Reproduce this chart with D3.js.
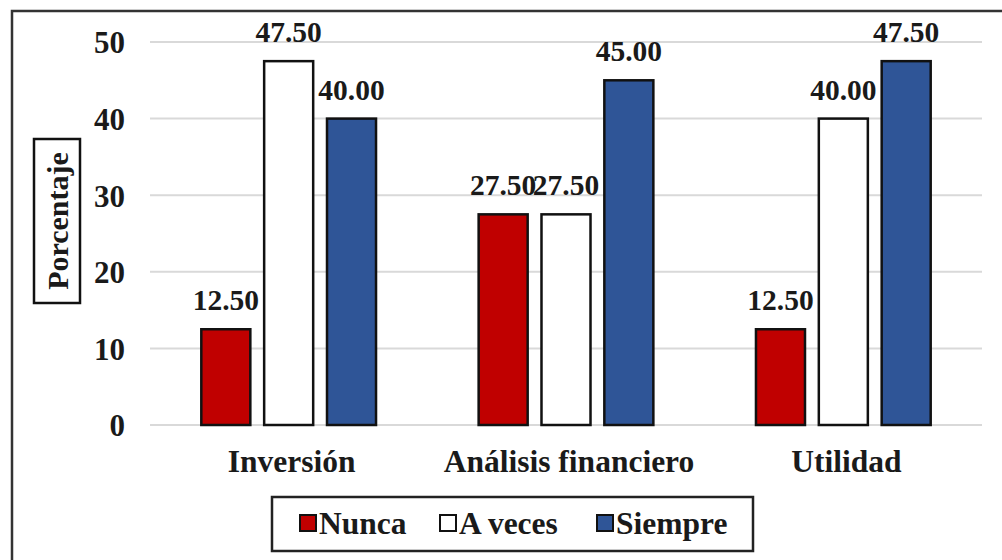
<!DOCTYPE html>
<html>
<head>
<meta charset="utf-8">
<script src="https://cdn.jsdelivr.net/npm/d3@7"></script>
<style>
  body { margin: 0; background: #fff; }
</style>
</head>
<body>
<div id="chart"></div>
<script>
var categories = ["Inversión", "Análisis financiero", "Utilidad"];
var seriesNames = ["Nunca", "A veces", "Siempre"];
var nunca = [12.5, 27.5, 12.5];
var aVeces = [47.5, 27.5, 40.0];
var siempre = [40.0, 45.0, 47.5];
var yTicks = [0, 10, 20, 30, 40, 50];
var colors = ["#c00000", "#ffffff", "#2f5597"];
var FONT = "'Liberation Serif', 'Times New Roman', Times, serif";

var svg = d3.select("#chart").append("svg").attr("width", 1002).attr("height", 560)
  .style("font-family", FONT)
svg.append("rect").attr("x", 0).attr("y", 0).attr("width", 1002).attr("height", 560).attr("fill", "#fff")
// outer frame
svg.append("rect").attr("x", 12).attr("y", 11).attr("width", 1010).attr("height", 570)
  .attr("fill", "none").attr("stroke", "#333").attr("stroke-width", 2.5)

var x0 = d3.scaleBand().domain(categories).range([150, 982]).paddingInner(0).paddingOuter(0)
var x1 = d3.scaleBand().domain(seriesNames).range([0, x0.bandwidth() * 0.63]).paddingInner(0.22)
var y = d3.scaleLinear().domain([0, 50]).range([425, 42])

function styleText(sel, size) {
  sel.style("font-family", FONT).style("font-weight", "bold").style("font-size", size + "px").attr("fill", "#1a1a1a")
}

// gridlines
svg.append("g").selectAll("line").data(yTicks).enter().append("line")
  .attr("x1", 150).attr("x2", 982)
  .attr("y1", function(d) { return y(d); }).attr("y2", function(d) { return y(d); })
  .attr("stroke", "#d9d9d9").attr("stroke-width", 2)

// y axis labels
var yAxis = d3.axisLeft(y).tickValues(yTicks).tickSize(0).tickPadding(0)
var gy = svg.append("g").attr("transform", "translate(125,0)").call(yAxis)
gy.attr("font-family", null).attr("font-size", null)
gy.select(".domain").remove()
gy.selectAll("text").attr("dy", "0.35em").call(styleText, 31)

var rows = seriesNames.map(function(s, i) {
  var vals = [nunca, aVeces, siempre][i];
  return categories.map(function(c, j) { return { cat: c, series: s, value: vals[j], idx: i }; });
});
var flat = d3.merge(rows)

function barX(d) {
  var off = (x0.bandwidth() - x1.range()[1]) / 2;
  return x0(d.cat) + off + x1(d.series);
}

svg.append("g").selectAll("rect").data(flat).enter().append("rect")
  .attr("x", barX)
  .attr("y", function(d) { return y(d.value); })
  .attr("width", x1.bandwidth())
  .attr("height", function(d) { return y(0) - y(d.value); })
  .attr("fill", function(d) { return colors[d.idx]; })
  .attr("stroke", "#111").attr("stroke-width", 2.5)

svg.append("g").selectAll("text").data(flat).enter().append("text")
  .attr("x", function(d) { return barX(d) + x1.bandwidth() / 2; })
  .attr("y", function(d) { return y(d.value) - 19; })
  .attr("text-anchor", "middle")
  .call(styleText, 29.5)
  .text(function(d) { return d3.format(".2f")(d.value); })

// x category labels
svg.append("g").selectAll("text").data(categories).enter().append("text")
  .attr("x", function(d) { return x0(d) + x0.bandwidth() / 2 + 3; })
  .attr("y", 472)
  .attr("text-anchor", "middle")
  .call(styleText, 31.5)
  .text(function(d) { return d; })

// y title in a box
var yt = svg.append("g").attr("transform", "translate(57,221) rotate(-90)")
yt.append("rect").attr("x", -82).attr("y", -23).attr("width", 164).attr("height", 46)
  .attr("fill", "#fff").attr("stroke", "#111").attr("stroke-width", 2.5)
yt.append("text").attr("text-anchor", "middle").attr("dy", "0.35em").call(styleText, 30).text("Porcentaje")

// legend
var lg = svg.append("g")
lg.append("rect").attr("x", 272).attr("y", 497).attr("width", 481).attr("height", 54)
  .attr("fill", "#fff").attr("stroke", "#222").attr("stroke-width", 2.5)
var legX = [300, 440, 597]
var items = lg.selectAll("g.item").data(seriesNames).enter().append("g")
  .attr("transform", function(d, i) { return "translate(" + legX[i] + ",523)"; })
items.append("rect").attr("x", 0).attr("y", -8).attr("width", 16).attr("height", 16)
  .attr("fill", function(d, i) { return colors[i]; }).attr("stroke", "#111").attr("stroke-width", 2)
items.append("text").attr("x", 19).attr("dy", "0.35em").call(styleText, 31.5).text(function(d) { return d; })
</script>
</body>
</html>
